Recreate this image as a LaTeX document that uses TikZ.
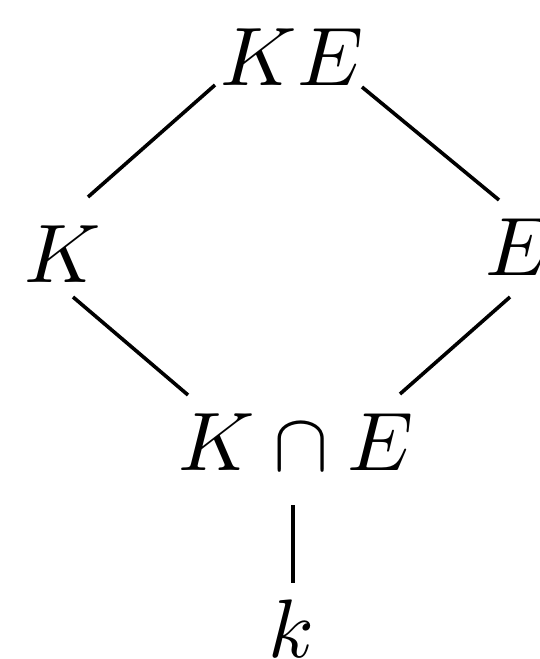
\documentclass[tikz,border=0pt]{standalone}
\usepackage{graphicx}
\usetikzlibrary{calc}
\newcommand{\bigmath}[1]{\scalebox{8.3}{$#1$}}
\begin{document}
\begin{tikzpicture}[x=1pt,y=-1pt,
  lbl/.style={anchor=base,inner sep=6pt},
  conn/.style={line width=3.6pt}]
\useasboundingbox (0,0) rectangle (539,659);
\node[lbl] (KE) at (292,85) {\bigmath{KE}};
\node[lbl] (K) at (63,282) {\bigmath{K}};
\node[lbl] (E) at (519,275) {\bigmath{E}};
\node[lbl] (KcE) at (296,470) {\bigmath{K\cap E}};
\node[lbl] (k) at (291,657) {\bigmath{k}};
\draw[conn] ($(KE.base)+(-77,0)$) -- ($(K.base)+(25,-85)$);
\draw[conn] ($(KE.base)+(70,2)$) -- ($(E.base)+(-20,-75)$);
\draw[conn] ($(K.base)+(10,15)$) -- ($(KcE.base)+(-108,-75)$);
\draw[conn] ($(E.base)+(-9,22)$) -- ($(KcE.base)+(104,-76)$);
\draw[conn] ($(KcE.base)+(-3,35)$) -- ($(k.base)+(2,-74)$);
\end{tikzpicture}
\end{document}
